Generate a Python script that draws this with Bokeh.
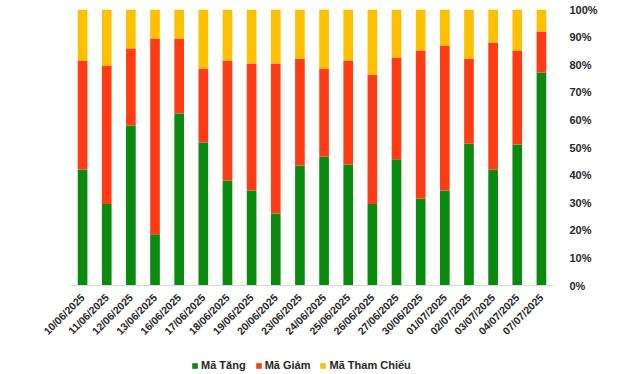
import math
from bokeh.plotting import figure
from bokeh.layouts import column
from bokeh.models import FactorRange, Range1d, Legend, LegendItem, PrintfTickFormatter, FixedTicker
from bokeh.embed import file_html
from bokeh.resources import INLINE

dates = ["10/06/2025", "11/06/2025", "12/06/2025", "13/06/2025", "16/06/2025",
         "17/06/2025", "18/06/2025", "19/06/2025", "20/06/2025", "23/06/2025",
         "24/06/2025", "25/06/2025", "26/06/2025", "27/06/2025", "30/06/2025",
         "01/07/2025", "02/07/2025", "03/07/2025", "04/07/2025", "07/07/2025"]
ma_tang = [42.0, 29.5, 58.0, 18.6, 62.3, 51.8, 38.0, 34.4, 26.1, 43.5,
           46.7, 43.8, 29.5, 45.7, 31.5, 34.4, 51.4, 42.0, 51.1, 77.2]
ma_giam = [39.5, 50.2, 27.9, 70.9, 27.2, 26.8, 43.5, 46.0, 54.3, 38.7,
           31.9, 37.7, 46.9, 36.9, 53.6, 52.6, 30.8, 46.0, 34.0, 14.8]
ma_tham_chieu = [18.5, 20.3, 14.1, 10.5, 10.5, 21.4, 18.5, 19.6, 19.6, 17.8,
                 21.4, 18.5, 23.6, 17.4, 14.9, 13.0, 17.8, 12.0, 14.9, 8.0]
series = ["Mã Tăng", "Mã Giảm", "Mã Tham Chiếu"]
colors = ["#0B8A10", "#FF3C14", "#FFC000"]
y_ticks = list(range(0, 101, 10))

data = dict(date=dates, tang=ma_tang, giam=ma_giam, tc=ma_tham_chieu)
font = "Liberation Sans"

p = figure(width=640, height=345, output_backend="svg", toolbar_location=None,
           x_range=FactorRange(*dates, range_padding=0), y_range=Range1d(0, 100),
           y_axis_location="right",
           min_border_left=70, min_border_right=87, min_border_top=9,
           min_border_bottom=60)
p.outline_line_color = None
p.xgrid.grid_line_color = None
p.ygrid.grid_line_color = None

p.vbar_stack(["tang", "giam", "tc"], x="date", width=0.4, color=colors,
             source=data, line_color=None)

yax = p.yaxis[0]
yax.ticker = FixedTicker(ticks=y_ticks)
yax.formatter = PrintfTickFormatter(format="%d%%")
yax.axis_line_color = None
yax.major_tick_line_color = None
yax.minor_tick_line_color = None
yax.major_label_text_font = font
yax.major_label_text_font_style = "bold"
yax.major_label_text_font_size = "11px"
yax.major_label_text_color = "#262626"
yax.major_label_standoff = 10

xax = p.xaxis[0]
xax.axis_line_color = "#D9D9D9"
xax.axis_line_width = 1
xax.major_tick_line_color = None
xax.minor_tick_line_color = None
xax.major_label_orientation = math.pi / 4
xax.major_label_text_font = font
xax.major_label_text_font_style = "bold"
xax.major_label_text_font_size = "10.5px"
xax.major_label_text_color = "#262626"
xax.major_label_standoff = 4

# legend strip (bars drawn out of view so only the legend shows)
lg = figure(width=640, height=29, output_backend="svg", toolbar_location=None,
            x_range=FactorRange(*dates, range_padding=0), y_range=Range1d(1000, 1001),
            min_border=0)
lg.outline_line_color = None
lg.axis.visible = False
lg.grid.visible = False
lg_renderers = lg.vbar_stack(["tang", "giam", "tc"], x="date", width=0.4, color=colors,
                             source=data, line_color=None)
legend = Legend(items=[LegendItem(label=s, renderers=[r]) for s, r in zip(series, lg_renderers)],
                orientation="horizontal", location=(121, 3),
                label_text_font=font, label_text_font_style="bold",
                label_text_font_size="11px", label_text_color="#262626",
                glyph_width=7, glyph_height=7, spacing=9, label_standoff=3,
                padding=0, margin=0, border_line_color=None, background_fill_alpha=0)
lg.add_layout(legend, "center")

layout = column(p, lg, spacing=0)
open("out.html", "w").write(file_html(layout, INLINE))
